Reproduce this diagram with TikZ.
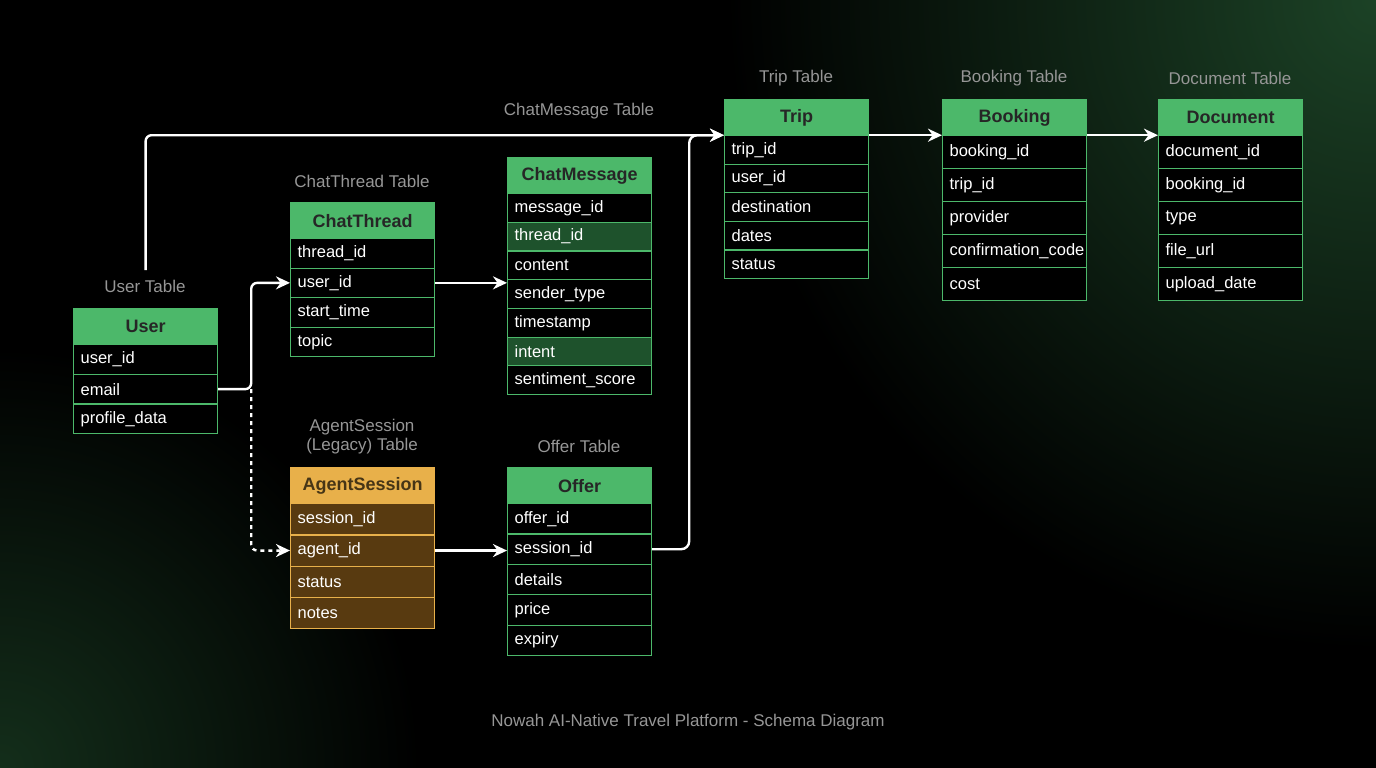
\documentclass[tikz,border=0pt]{standalone}
\usepackage{fontspec}
\setmainfont{Liberation Sans}
\usetikzlibrary{arrows.meta,calc}
\definecolor{hdrgreen}{RGB}{76,184,106}
\definecolor{rowgreen}{RGB}{30,82,44}
\definecolor{hdrorange}{RGB}{232,176,74}
\definecolor{roworange}{RGB}{88,58,16}
\definecolor{captgray}{RGB}{150,150,150}
\definecolor{glow}{RGB}{28,66,38}
\tikzset{
	hdr/.style={draw=hdrgreen, fill=hdrgreen, line width=1.2pt, minimum width=144pt, minimum height=36pt,
		inner sep=0pt, text=black!85, font=\fontsize{18}{20}\selectfont\bfseries},
	row/.style={draw=hdrgreen, fill=black, line width=1.2pt, text width=130pt, inner xsep=7pt, inner ysep=0pt,
		align=left, text=white, font=\fontsize{16.5}{18}\selectfont},
	hl/.style={row, fill=rowgreen},
	ohdr/.style={hdr, draw=hdrorange, fill=hdrorange, text=hdrorange!30!black},
	orow/.style={row, draw=hdrorange, fill=roworange},
	caption/.style={text=captgray, font=\fontsize{17}{19}\selectfont, align=center},
	link/.style={draw=white, line width=2.4pt, -{Stealth[length=14pt,width=13pt]}, rounded corners=6pt},
	legacy/.style={link, dashed, dash pattern=on 4pt off 4pt},
}
% table: name, left x, top y, header text, header style, row height, field/style list
\newcommand{\schematable}[7]{%
	\node[#5, anchor=north west] (#1) at (#2,#3) {#4};
	\foreach \f/\s [count=\i] in {#7} {
		\node[\s, minimum height=#6pt, anchor=north west] (#1-\i) at (#2,{#3+36+(\i-1)*#6}) {\f};
	}
}
\begin{document}
\begin{tikzpicture}[x=1pt,y=-1pt]
	\useasboundingbox (0,0) rectangle (1376,768);
	\begin{scope}
		\clip (0,0) rectangle (1376,768);
		\fill[black] (0,0) rectangle (1376,768);
		\shade[inner color=glow, outer color=black] (1376,0) circle (650);
		\shade[inner color=glow!70!black, outer color=black] (0,768) circle (420);
	\end{scope}

	% tables
	\schematable{U}{73}{308}{User}{hdr}{29.7}{user\_id/row, email/row, profile\_data/row}
	\schematable{CT}{290}{202}{ChatThread}{hdr}{29.5}{thread\_id/row, user\_id/row, start\_time/row, topic/row}
	\schematable{CM}{507}{157}{ChatMessage}{hdr}{28.7}{message\_id/row, thread\_id/hl, content/row, sender\_type/row, timestamp/row, intent/hl, sentiment\_score/row}
	\schematable{T}{724}{99}{Trip}{hdr}{28.6}{trip\_id/row, user\_id/row, destination/row, dates/row, status/row}
	\schematable{B}{942}{99}{Booking}{hdr}{33}{booking\_id/row, trip\_id/row, provider/row, confirmation\_code/row, cost/row}
	\schematable{D}{1158}{99}{Document}{hdr}{33}{document\_id/row, booking\_id/row, type/row, file\_url/row, upload\_date/row}
	\schematable{AS}{290}{467}{AgentSession}{ohdr}{31.3}{session\_id/orow, agent\_id/orow, status/orow, notes/orow}
	\schematable{O}{507}{467}{Offer}{hdr}{30.4}{offer\_id/row, session\_id/row, details/row, price/row, expiry/row}

	% captions
	\node[caption] at (145,286) {User Table};
	\node[caption] at (362,181) {ChatThread Table};
	\node[caption] at (796,78) {Trip Table};
	\node[caption] at (1014,78) {Booking Table};
	\node[caption] at (1230,78) {Document Table};
	\node[caption] at (579,446) {Offer Table};
	\node[caption, text height=12pt] at (362,446) {AgentSession\\(Legacy) Table};
	\node[caption] (lbl) at (579,111) {ChatMessage Table};
	\node[caption] at (688,722) {Nowah AI-Native Travel Platform - Schema Diagram};

	% connectors
	\coordinate (tripIn) at ($(T.south west)+(0,-1)$);
	\coordinate (tripOut) at ($(T.south east)+(0,-1)$);
	\coordinate (bookIn) at ($(B.south west)+(0,-1)$);
	\coordinate (bookOut) at ($(B.south east)+(0,-1)$);
	\coordinate (docIn) at ($(D.south west)+(0,-1)$);
	\coordinate (split) at ($(U-2.east)+(33,0)$);
	\coordinate (rise) at ($(O-2.east)+(37,0)$);
	\draw[link] ($(U.north)+(0,-38)$) |- (tripIn);
	\draw[link] (U-2.east) -- (split) |- (CT-2.west);
	\draw[legacy] (split) |- (AS-2.west);
	\draw[link] (CT-2.east) -- (CT-2.east -| CM.west);
	\draw[link] (AS-2.east) -- (AS-2.east -| O.west);
	\draw[link, rounded corners=8pt] (O-2.east) -- (rise) |- (tripIn);
	\draw[link] (tripOut) -- (bookIn);
	\draw[link] (bookOut) -- (docIn);
\end{tikzpicture}
\end{document}
